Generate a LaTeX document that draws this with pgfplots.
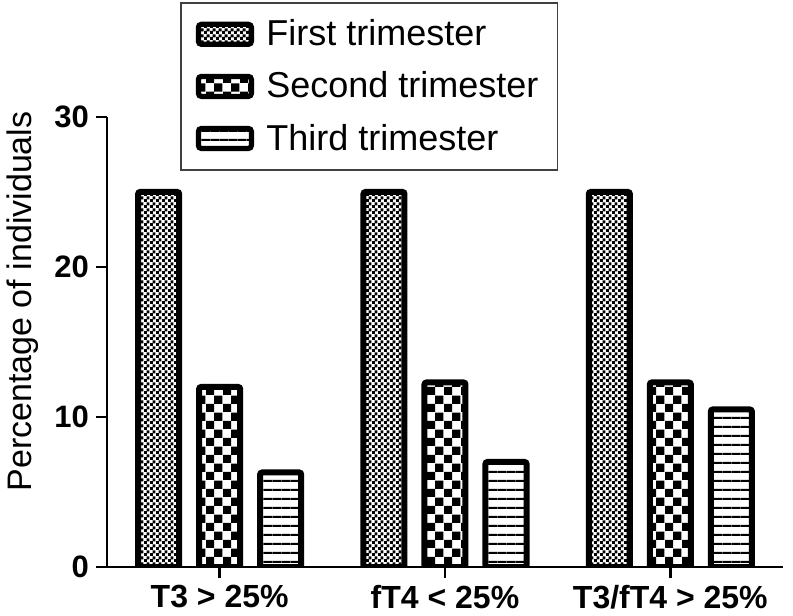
\documentclass[border=0pt]{standalone}
\usepackage{fontspec}
\setmainfont{Liberation Sans}
\usepackage{pgfplots}
\usepackage{pgfplotstable}
\pgfplotsset{compat=1.18}
\usetikzlibrary{patterns}

\pgfdeclarepatternformonly{finecheck}{\pgfpointorigin}{\pgfqpoint{3pt}{3pt}}{\pgfqpoint{3pt}{3pt}}{%
 \pgfpathrectangle{\pgfpointorigin}{\pgfqpoint{1.7pt}{1.7pt}}%
 \pgfpathrectangle{\pgfqpoint{1.5pt}{1.5pt}}{\pgfqpoint{1.7pt}{1.7pt}}%
 \pgfusepath{fill}}
\pgfdeclarepatternformonly{coarsecheck}{\pgfpointorigin}{\pgfqpoint{8.6pt}{8.6pt}}{\pgfqpoint{8.6pt}{8.6pt}}{%
 \pgfpathrectangle{\pgfpointorigin}{\pgfqpoint{4.3pt}{4.3pt}}%
 \pgfpathrectangle{\pgfqpoint{4.3pt}{4.3pt}}{\pgfqpoint{4.3pt}{4.3pt}}%
 \pgfusepath{fill}}
\pgfdeclarepatternformonly{hlines}{\pgfpointorigin}{\pgfqpoint{4.4pt}{4.4pt}}{\pgfqpoint{4.4pt}{4.4pt}}{%
 \pgfpathrectangle{\pgfpointorigin}{\pgfqpoint{4.4pt}{1.1pt}}%
 \pgfusepath{fill}}

\pgfplotstableread{
x first second third
0 25 12.0 6.3
1 25 12.3 7.0
2 25 12.3 10.5
}\datatable

\begin{document}
\begin{tikzpicture}
\begin{axis}[
  scale only axis, width=338pt, height=225pt,
  xmin=-0.5, xmax=2.5, ymin=0, ymax=30,
  ybar,
  axis lines=left,
  axis line style={line width=1.4pt, -},
  ytick={0,10,20,30},
  xtick={0,1,2},
  xticklabels={T3 > 25\%, fT4 < 25\%, T3/fT4 > 25\%},
  tick align=outside, major tick length=5.5pt,
  tick style={line width=1.4pt, black},
  /pgf/number format/assume math mode=true,
  yticklabel style={font=\fontsize{15.5}{18}\selectfont\bfseries},
  xticklabel style={font=\fontsize{16}{19}\selectfont\bfseries},
  ylabel={Percentage of individuals},
  ylabel style={font=\fontsize{17}{20}\selectfont, at={(axis description cs:-0.124,0.59)}, anchor=center},
  legend cell align=left,
  legend style={at={(0.108,1.2556)}, anchor=north west, draw=black!75, line width=0.8pt,
    font=\fontsize{18}{21}\selectfont, inner xsep=7.5pt, inner ysep=6.5pt, row sep=7.5pt},
  legend image code/.code={\draw[#1, line width=2.6pt, rounded corners=1.5pt] (-1pt,-5pt) rectangle (25.5pt,5pt);
    \path[draw=none] (31pt,0pt);},
]
\addplot[draw=black, line width=3pt, pattern=finecheck, bar width=20.5pt, bar shift=-30.5pt, rounded corners=1pt] table[x=x,y=first]{\datatable};
\addplot[draw=black, line width=3pt, pattern=coarsecheck, bar width=20.5pt, bar shift=0pt, rounded corners=1pt] table[x=x,y=second]{\datatable};
\addplot[draw=black, line width=3pt, pattern=hlines, bar width=20.5pt, bar shift=30.5pt, rounded corners=1pt] table[x=x,y=third]{\datatable};
\legend{First trimester, Second trimester, Third trimester}
\coordinate (bl) at (rel axis cs:0,0);
\coordinate (tr) at (rel axis cs:1,1);
\end{axis}
\pgfresetboundingbox
\path[use as bounding box] ([shift={(-53.5pt,-24.5pt)}]bl) rectangle ([shift={(5pt,58.5pt)}]tr);
\end{tikzpicture}
\end{document}
